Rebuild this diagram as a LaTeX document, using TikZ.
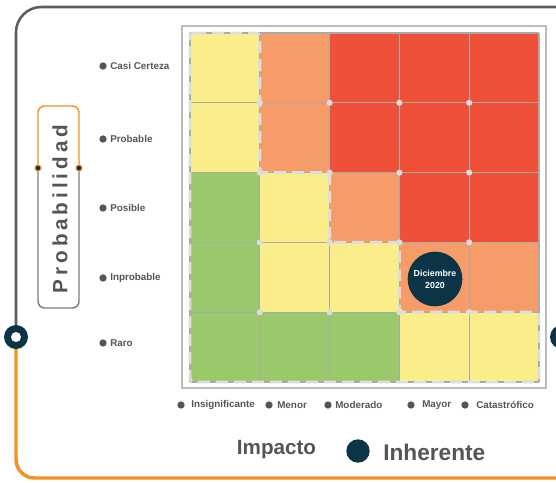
\documentclass[tikz,border=0pt]{standalone}
\usepackage{fontspec}
\setmainfont{Liberation Sans}
\definecolor{yel}{HTML}{F9EE8A}
\definecolor{org}{HTML}{F69C69}
\definecolor{rd}{HTML}{EE5138}
\definecolor{grn}{HTML}{9BC86B}
\definecolor{navy}{HTML}{0B3446}
\definecolor{gridg}{HTML}{A9A9A9}
\definecolor{dotg}{HTML}{DDDDDD}
\definecolor{frameg}{HTML}{5C5C5C}
\definecolor{orl}{HTML}{F39223}
\definecolor{txtg}{HTML}{555555}
\definecolor{outerg}{HTML}{BDBDBD}
\tikzset{
  rowlab/.style={anchor=west,inner sep=0pt,text=txtg,font=\fontsize{7.4}{8}\selectfont\bfseries},
  bul/.style={circle,fill=txtg,inner sep=0pt,minimum size=5.5pt},
  gdot/.style={circle,fill=dotg,inner sep=0pt,minimum size=4.6pt},
}
\begin{document}
\begin{tikzpicture}[x=0.75pt,y=-0.75pt]
\useasboundingbox (0,0) rectangle (556,482);
\clip (0,0) rectangle (556,482);
% outer frame
\draw[frameg,line width=1.9pt,rounded corners=19pt] (16,330) -- (16,7) -- (600,7);
\draw[orl,line width=2.6pt,rounded corners=14pt] (16,345) -- (16,478) -- (600,478);
\node[circle,fill=navy,minimum size=18pt,inner sep=0pt] (cl) at (16,337) {};
\node[circle,fill=white,minimum size=7.5pt,inner sep=0pt] (cli) at (16,337) {};
\node[circle,fill=navy,minimum size=18pt,inner sep=0pt] (cr) at (562,337) {};
% Probabilidad box
\draw[orl,line width=1.1pt,rounded corners=5pt] (38,168) -- (38,106) -- (79,106) -- (79,168);
\draw[frameg!80,line width=1.1pt,rounded corners=5pt] (38,168) -- (38,308) -- (79,308) -- (79,168);
\node[circle,draw=orl,fill=navy,line width=0.8pt,inner sep=0pt,minimum size=4.5pt] (pl) at (38,168) {};
\node[circle,draw=orl,fill=navy,line width=0.8pt,inner sep=0pt,minimum size=4.5pt] (pr) at (79,168) {};
\node[rotate=90,text=txtg,inner sep=0pt,font=\fontsize{15.5}{17}\selectfont\bfseries\addfontfeature{LetterSpace=19}] (prob) at (60,209) {Probabilidad};
% matrix outer frame
\draw[outerg,line width=0.9pt] (182,26) rectangle (546,388);
% cells
\def\cw{69.8}
\foreach \c [count=\i from 0] in {yel,org,rd,rd,rd}{\fill[\c] (190+\i*\cw,33) rectangle ++(\cw,\cw);}
\foreach \c [count=\i from 0] in {yel,org,rd,rd,rd}{\fill[\c] (190+\i*\cw,33+\cw) rectangle ++(\cw,\cw);}
\foreach \c [count=\i from 0] in {grn,yel,org,rd,rd}{\fill[\c] (190+\i*\cw,33+2*\cw) rectangle ++(\cw,\cw);}
\foreach \c [count=\i from 0] in {grn,yel,yel,org,org}{\fill[\c] (190+\i*\cw,33+3*\cw) rectangle ++(\cw,\cw);}
\foreach \c [count=\i from 0] in {grn,grn,grn,yel,yel}{\fill[\c] (190+\i*\cw,33+4*\cw) rectangle ++(\cw,\cw);}
% grid lines
\foreach \i in {0,...,5}{
  \draw[gridg,line width=0.8pt] (190+\i*\cw,33) -- (190+\i*\cw,382);
  \draw[gridg,line width=0.8pt] (190,33+\i*\cw) -- (539,33+\i*\cw);
}
% dashed low-risk outline
\draw[dotg,line width=2.2pt,dash pattern=on 9pt off 4.5pt,rounded corners=3pt]
  (190,33) -- (259.8,33) -- (259.8,172.6) -- (329.6,172.6) -- (329.6,242.4) -- (399.4,242.4)
  -- (399.4,312.2) -- (539,312.2) -- (539,382) -- (190,382) -- cycle;
% intersection dots
\foreach \i in {1,...,4}{\foreach \j in {1,...,4}{
  \node[gdot] (d\i\j) at (190+\i*\cw,33+\j*\cw) {};
}}
% Diciembre marker
\node[circle,fill=navy,minimum size=41pt,inner sep=0pt,text=white,align=center,
  font=\fontsize{6.6}{9}\selectfont\bfseries] (dic) at (435,279) {Diciembre\\2020};
% row labels
\node[bul] (b1) at (103,66) {}; \node[rowlab] (r1) at (110,66) {Casi Certeza};
\node[bul] (b2) at (103,139) {}; \node[rowlab] (r2) at (110,139) {Probable};
\node[bul] (b3) at (103,208) {}; \node[rowlab] (r3) at (110,208) {Posible};
\node[bul] (b4) at (103,278) {}; \node[rowlab] (r4) at (110,278) {Inprobable};
\node[bul] (b5) at (103,343) {}; \node[rowlab] (r5) at (110,343) {Raro};
% column labels
\node[bul] (c1) at (181,405) {}; \node[rowlab] (t1) at (191,405) {Insignificante};
\node[bul] (c2) at (269,405) {}; \node[rowlab] (t2) at (277,405) {Menor};
\node[bul] (c3) at (328,405) {}; \node[rowlab] (t3) at (335,405) {Moderado};
\node[bul] (c4) at (411,405) {}; \node[rowlab] (t4) at (422,405) {Mayor};
\node[bul] (c5) at (465,405) {}; \node[rowlab] (t5) at (476,405) {Catastrófico};
% bottom legend
\node[text=txtg,inner sep=0pt,font=\fontsize{15.5}{18}\selectfont\bfseries] (imp) at (276.5,450) {Impacto};
\node[circle,fill=navy,minimum size=17.5pt,inner sep=0pt] (leg) at (358,451) {};
\node[anchor=west,text=txtg,inner sep=0pt,font=\fontsize{17}{20}\selectfont\bfseries] (inh) at (383,452) {Inherente};
\end{tikzpicture}
\end{document}
